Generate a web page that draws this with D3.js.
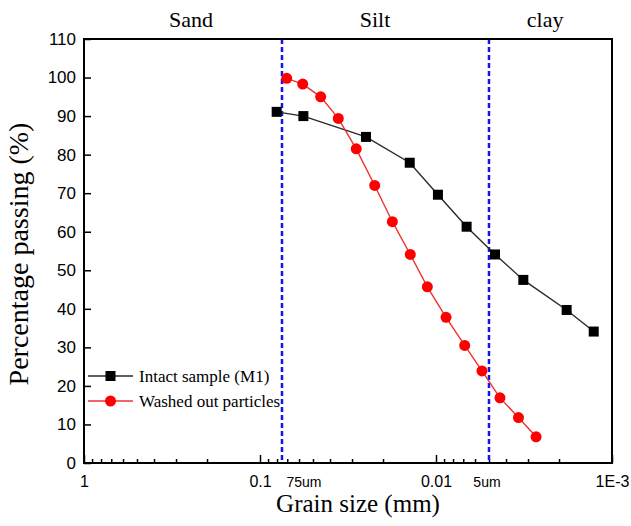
<!DOCTYPE html>
<html>
<head>
<meta charset="utf-8">
<script src="https://cdn.jsdelivr.net/npm/d3@7"></script>
<style>
  body { margin: 0; background: #fff; }
  svg { display: block; }
</style>
</head>
<body>
<div id="chart"></div>
<script>
// grain size distribution data (size in mm, percent passing)
const intactSize = [0.0804, 0.0567, 0.025, 0.0141, 0.00975, 0.0067, 0.00462, 0.00319, 0.00181, 0.00127];
const intactPass = [91.1, 90.0, 84.6, 77.9, 69.6, 61.3, 54.1, 47.5, 39.7, 34.1];

const washedSize = [0.0705, 0.0572, 0.0452, 0.0359, 0.0284, 0.0223, 0.0177, 0.0140, 0.0112, 0.00877, 0.00687, 0.00548, 0.00433, 0.0034, 0.0027];
const washedPass = [99.8, 98.3, 95.0, 89.4, 81.5, 72.0, 62.6, 54.1, 45.7, 37.8, 30.5, 23.9, 16.9, 11.8, 6.8];

const majorTicks = [1, 0.1, 0.01, 0.001];
const majorLabels = ['1', '0.1', '0.01', '1E-3'];
const yTicks = d3.range(0, 111, 10);

// soil class boundaries
const bounds = [0.075, 0.005];
const boundLabels = ['75um', '5um'];
const zones = [
    { name: 'Sand', at: 0.2466 },
    { name: 'Silt', at: 0.0222 },
    { name: 'clay', at: 0.0024 }
];

const width = 631, height = 526;
const margin = { top: 39, right: 19, bottom: 63, left: 84 };

const svg = d3.select('#chart').append('svg')
    .attr('width', width)
    .attr('height', height);

const x = d3.scaleLog()
    .domain([1, 0.001])
    .range([margin.left, width - margin.right]);

const y = d3.scaleLinear()
    .domain([0, 110])
    .range([height - margin.bottom, margin.top]);

const serif = 'Liberation Serif, Times New Roman, serif';
const sans = 'Liberation Sans, Arial, sans-serif';

// minor ticks on the log axis
const minorTicks = [];
[1, 0.1, 0.01].forEach(dec => {
    for (let k = 2; k <= 9; k++) minorTicks.push(dec * k / 10);
});

svg.append('g')
    .attr('transform', `translate(0,${y(0)})`)
    .call(d3.axisBottom(x).tickValues(minorTicks).tickSize(-4).tickFormat(''))
    .call(g => g.select('.domain').remove())
    .call(g => g.selectAll('line').attr('stroke', '#000').attr('stroke-width', 1.5));

svg.append('g')
    .attr('transform', `translate(0,${y(0)})`)
    .call(d3.axisBottom(x).tickValues(majorTicks).tickSize(-8)
        .tickFormat((d, i) => majorLabels[i]).tickPadding(13))
    .call(g => g.select('.domain').remove())
    .call(g => g.selectAll('line').attr('stroke', '#000').attr('stroke-width', 1.5))
    .call(g => g.selectAll('text').attr('font-family', sans).attr('font-size', 16).attr('fill', '#000'));

svg.append('g')
    .attr('transform', `translate(${x(1)},0)`)
    .call(d3.axisLeft(y).tickValues(yTicks).tickSize(-7).tickPadding(8))
    .call(g => g.select('.domain').remove())
    .call(g => g.selectAll('line').attr('stroke', '#000').attr('stroke-width', 1.5))
    .call(g => g.selectAll('text').attr('font-family', sans).attr('font-size', 17).attr('fill', '#000'));

// boundary labels under the axis
svg.selectAll('.blabel')
    .data(bounds)
    .join('text')
    .attr('x', (d, i) => x(d) + (i === 0 ? 22 : -2))
    .attr('y', y(0) + 24)
    .attr('text-anchor', 'middle')
    .attr('font-family', sans)
    .attr('font-size', 14)
    .text((d, i) => boundLabels[i]);

// dashed class boundaries
svg.selectAll('.bound')
    .data(bounds)
    .join('line')
    .attr('x1', d => x(d)).attr('x2', d => x(d))
    .attr('y1', y(110)).attr('y2', y(0))
    .attr('stroke', '#1414f0')
    .attr('stroke-width', 2.5)
    .attr('stroke-dasharray', '5,3');

// frame
svg.append('rect')
    .attr('x', margin.left)
    .attr('y', margin.top)
    .attr('width', width - margin.left - margin.right)
    .attr('height', height - margin.top - margin.bottom)
    .attr('fill', 'none')
    .attr('stroke', '#000')
    .attr('stroke-width', 2);

// zone names above the frame
svg.selectAll('.zone')
    .data(zones)
    .join('text')
    .attr('x', d => x(d.at))
    .attr('y', 27)
    .attr('text-anchor', 'middle')
    .attr('font-family', serif)
    .attr('font-size', 22)
    .text(d => d.name);

const line = d3.line();

const intact = intactSize.map((s, i) => [x(s), y(intactPass[i])]);
const washed = washedSize.map((s, i) => [x(s), y(washedPass[i])]);

svg.append('path')
    .attr('d', line(intact))
    .attr('fill', 'none')
    .attr('stroke', '#2a2a2a')
    .attr('stroke-width', 1.4);

svg.append('path')
    .attr('d', line(washed))
    .attr('fill', 'none')
    .attr('stroke', '#f03030')
    .attr('stroke-width', 1.4);

svg.selectAll('.sq')
    .data(intact)
    .join('rect')
    .attr('x', d => d[0] - 5)
    .attr('y', d => d[1] - 5)
    .attr('width', 10)
    .attr('height', 10)
    .attr('fill', '#000');

svg.selectAll('.dot')
    .data(washed)
    .join('circle')
    .attr('cx', d => d[0])
    .attr('cy', d => d[1])
    .attr('r', 5.5)
    .attr('fill', '#ff0000');

// legend
const legend = svg.append('g').attr('transform', 'translate(88,376)');
legend.append('line').attr('x1', 0).attr('x2', 45).attr('y1', 0).attr('y2', 0)
    .attr('stroke', '#2a2a2a').attr('stroke-width', 1.4);
legend.append('rect').attr('x', 17.5).attr('y', -5).attr('width', 10).attr('height', 10).attr('fill', '#000');
legend.append('text').attr('x', 51).attr('y', 6)
    .attr('font-family', serif).attr('font-size', 17).text('Intact sample (M1)');
legend.append('line').attr('x1', 0).attr('x2', 45).attr('y1', 25).attr('y2', 25)
    .attr('stroke', '#f03030').attr('stroke-width', 1.4);
legend.append('circle').attr('cx', 22.5).attr('cy', 25).attr('r', 5.5).attr('fill', '#ff0000');
legend.append('text').attr('x', 51).attr('y', 31)
    .attr('font-family', serif).attr('font-size', 17).text('Washed out particles');

// axis titles
svg.append('text')
    .attr('x', 358)
    .attr('y', 512)
    .attr('text-anchor', 'middle')
    .attr('font-family', serif)
    .attr('font-size', 25)
    .text('Grain size (mm)');

svg.append('text')
    .attr('transform', 'translate(28,254) rotate(-90)')
    .attr('text-anchor', 'middle')
    .attr('font-family', serif)
    .attr('font-size', 28)
    .text('Percentage passing (%)');
</script>
</body>
</html>
